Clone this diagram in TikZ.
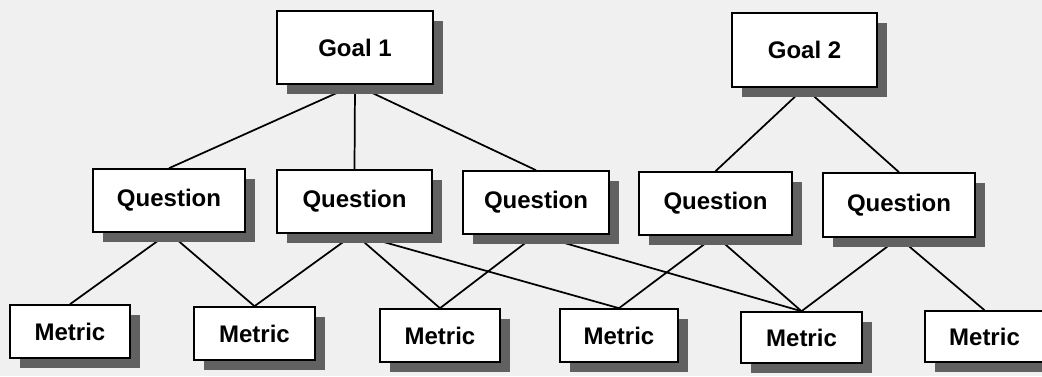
\documentclass[tikz,border=0pt]{standalone}
\usepackage{fontspec}
\setmainfont{Liberation Sans}
\usetikzlibrary{shadows}
\pgfdeclarelayer{paper}
\pgfdeclarelayer{links}
\pgfsetlayers{paper,links,main}

\tikzset{
  box/.style={draw=black, line width=1.2pt, fill=white, inner sep=0pt,
    font=\fontsize{18}{21}\selectfont\bfseries,
    drop shadow={shadow xshift=7.5pt, shadow yshift=-7.5pt, fill=black!62, opacity=1}},
  link/.style={draw=black, line width=1.3pt},
}

\begin{document}
\begin{tikzpicture}[x=0.75pt, y=-0.75pt]
  \useasboundingbox (0,0) rectangle (1042,376);
  \begin{pgfonlayer}{paper}
    \fill[black!6] (0,0) rectangle (1042,376);
  \end{pgfonlayer}

  % goals
  \node[box, minimum width=117pt, minimum height=54.75pt] (g1) at (355,47.5) {Goal 1};
  \node[box, minimum width=108.75pt, minimum height=55.5pt] (g2) at (804.5,50) {Goal 2};

  % questions
  \node[box, minimum width=114pt, minimum height=47.25pt] (q1) at (169,200.5) {Question};
  \node[box, minimum width=116.25pt, minimum height=47.25pt] (q2) at (354.5,201.5) {Question};
  \node[box, minimum width=109.5pt, minimum height=47.25pt] (q3) at (536,202.5) {Question};
  \node[box, minimum width=114.75pt, minimum height=47.25pt] (q4) at (715.5,203.5) {Question};
  \node[box, minimum width=114pt, minimum height=48pt] (q5) at (899,205) {Question};

  % metrics
  \node[box, minimum width=90pt, minimum height=39.75pt] (m1) at (70,331.5) {Metric};
  \node[box, minimum width=90.75pt, minimum height=39.75pt] (m2) at (254.5,333.5) {Metric};
  \node[box, minimum width=90pt, minimum height=39.75pt] (m3) at (440,335.5) {Metric};
  \node[box, minimum width=88.5pt, minimum height=39.75pt] (m4) at (619,335.5) {Metric};
  \node[box, minimum width=90.75pt, minimum height=38.25pt] (m5) at (801.5,337.5) {Metric};
  \node[box, minimum width=89.25pt, minimum height=38.25pt] (m6) at (984.5,336.5) {Metric};

  % links run behind the boxes and their shadows
  \begin{pgfonlayer}{links}
    \draw[link] (g1.south) -- (q1.north);
    \draw[link] (g1.south) -- (q2.north);
    \draw[link] (g1.south) -- (q3.north);
    \draw[link] (g2.south) -- (q4.north);
    \draw[link] (g2.south) -- (q5.north);

    \draw[link] (q1.south) -- (m1.north);
    \draw[link] (q1.south) -- (m2.north);
    \draw[link] (q2.south) -- (m2.north);
    \draw[link] (q2.south) -- (m3.north);
    \draw[link] (q2.south) -- (m4.north);
    \draw[link] (q3.south) -- (m3.north);
    \draw[link] (q3.south) -- (m5.north);
    \draw[link] (q4.south) -- (m4.north);
    \draw[link] (q4.south) -- (m5.north);
    \draw[link] (q5.south) -- (m5.north);
    \draw[link] (q5.south) -- (m6.north);
  \end{pgfonlayer}
\end{tikzpicture}
\end{document}
